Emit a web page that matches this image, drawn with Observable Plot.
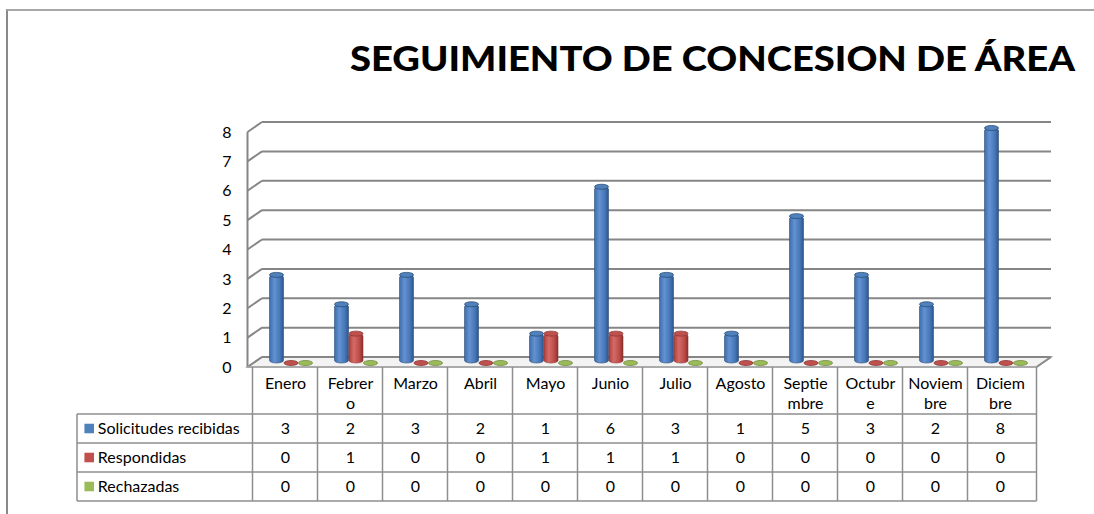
<!DOCTYPE html>
<html>
<head>
<meta charset="utf-8">
<script src="https://cdn.jsdelivr.net/npm/d3@7"></script>
<script src="https://cdn.jsdelivr.net/npm/@observablehq/plot@0.6"></script>
<style>
  html, body { margin: 0; padding: 0; background: #fff; }
  body { width: 1094px; height: 514px; position: relative; overflow: hidden; font-family: Lato, "Open Sans", sans-serif; }
  #frame { position: absolute; left: 6px; top: 9px; width: 2000px; height: 1000px;
           border-left: 2px solid #8a8a8a; border-top: 2px solid #a8a8a8; pointer-events: none; }
  #title { position: relative; height: 100px; }
  #title span { position: absolute; left: 350px; top: 41px; font: 900 34px Lato, sans-serif;
                line-height: 1; white-space: nowrap; color: #000; transform-origin: 0 0; }
  #chart svg { display: block; overflow: visible; }
</style>
</head>
<body>
<div id="frame"></div>
<div id="title"><span id="titletext">SEGUIMIENTO DE CONCESION DE ÁREA</span></div>
<div id="chart"></div>
<script>
// ---- data ----
const months = ["Enero","Febrero","Marzo","Abril","Mayo","Junio","Julio","Agosto","Septiembre","Octubre","Noviembre","Diciembre"];
const monthLabels = ["Enero","Febrer\no","Marzo","Abril","Mayo","Junio","Julio","Agosto","Septie\nmbre","Octubr\ne","Noviem\nbre","Diciem\nbre"];
const seriesNames = ["Solicitudes recibidas","Respondidas","Rechazadas"];
const solicitudes = [3,2,3,2,1,6,3,1,5,3,2,8];
const respondidas = [0,1,0,0,1,1,1,0,0,0,0,0];
const rechazadas  = [0,0,0,0,0,0,0,0,0,0,0,0];
const yTicks = [0,1,2,3,4,5,6,7,8];

const seriesValues = [solicitudes, respondidas, rechazadas];
const seriesStyle = [
  {grad: "gBlue",  cap: "#4f81bd", dark: "#2c4d75", key: "#4f81bd", insetLeft: 2.5,  insetRight: 48.5},
  {grad: "gRed",   cap: "#c0504d", dark: "#8c3836", key: "#c0504d", insetLeft: 17,   insetRight: 34},
  {grad: "gGreen", cap: "#9bbb59", dark: "#71893f", key: "#9bbb59", insetLeft: 31.5, insetRight: 19.5}
];

const DX = -14.5, DY = 10; // depth offset back->front
const NS = "http://www.w3.org/2000/svg";
const FS = 16;

function el(name, attrs) {
  const e = document.createElementNS(NS, name);
  for (const k in attrs) e.setAttribute(k, attrs[k]);
  return e;
}

// floor + walls, drawn through the scales
function wallsMark(index, scales, values, dims) {
  const g = el("g", {});
  const xl = dims.marginLeft, xr = dims.width - dims.marginRight;
  const y0 = scales.y(0);
  g.appendChild(el("polygon", {points: `${xl},${y0} ${xr},${y0} ${xr+DX},${y0+DY} ${xl+DX},${y0+DY}`,
    fill: "#f3f3f3", stroke: "#a6a6a6", "stroke-width": 1.5}));
  for (const v of yTicks) {
    const y = scales.y(v);
    g.appendChild(el("line", {x1: xl, y1: y, x2: xr, y2: y, stroke: "#868686", "stroke-width": 2}));
    g.appendChild(el("line", {x1: xl, y1: y, x2: xl+DX, y2: y+DY, stroke: "#868686", "stroke-width": 2}));
  }
  g.appendChild(el("line", {x1: xr, y1: y0, x2: xr+DX, y2: y0+DY, stroke: "#8a8a8a", "stroke-width": 2}));
  g.appendChild(el("line", {x1: xl+DX, y1: scales.y(yTicks[yTicks.length-1])+DY, x2: xl+DX, y2: y0+DY, stroke: "#868686", "stroke-width": 2}));
  return g;
}

// data table grid
function tableMark(index, scales, values, dims) {
  const g = el("g", {});
  const xl = dims.marginLeft, xr = dims.width - dims.marginRight;
  const y0 = scales.y(0);
  const top = y0 + DY, rows = [y0 + 57, y0 + 86, y0 + 115, y0 + 144];
  const tableLeft = xl - 185;
  const c = "#8e8e8e";
  g.appendChild(el("line", {x1: xl+DX, y1: top, x2: xr+DX, y2: top, stroke: "#a6a6a6", "stroke-width": 1.5}));
  for (const m of months) {
    const x = scales.x(m) + DX;
    g.appendChild(el("line", {x1: x, y1: top, x2: x, y2: rows[3], stroke: c, "stroke-width": 1.5}));
  }
  g.appendChild(el("line", {x1: xr+DX, y1: top, x2: xr+DX, y2: rows[3], stroke: c, "stroke-width": 1.5}));
  g.appendChild(el("line", {x1: tableLeft, y1: rows[0], x2: tableLeft, y2: rows[3], stroke: c, "stroke-width": 1.5}));
  for (const r of rows) g.appendChild(el("line", {x1: tableLeft, y1: r, x2: xr+DX, y2: r, stroke: c, "stroke-width": 1.5}));
  return g;
}

const marks = [wallsMark, tableMark];

// bars (cylinders)
seriesValues.forEach((vals, si) => {
  const s = seriesStyle[si];
  const data = months.map((m, i) => ({month: m, value: vals[i]}));
  marks.push(Plot.barY(data, {x: "month", y1: 0, y2: "value", fill: `url(#${s.grad})`,
    stroke: s.dark, strokeWidth: 0.6, insetLeft: s.insetLeft, insetRight: s.insetRight,
    rx: 7.5, ry: 2.5, dy: 6}));
  marks.push(Plot.barY(data, {x: "month", y1: "value", y2: "value", fill: s.cap,
    stroke: s.dark, strokeWidth: 0.8, insetLeft: s.insetLeft, insetRight: s.insetRight,
    insetTop: -2.5, insetBottom: -2.5, rx: 7.5, ry: 2.5, dy: 6}));
});

// y axis labels at front edge
marks.push(Plot.text(yTicks, {y: d => d, frameAnchor: "left", text: d => String(d), textAnchor: "end",
  dx: -31, dy: DY, fontSize: FS, fill: "#000"}));

// table header (month labels)
marks.push(Plot.text(months, {x: d => d, text: (d, i) => monthLabels[i], frameAnchor: "bottom",
  lineAnchor: "top", lineHeight: 1.25, dx: DX, dy: 17, fontSize: FS, fill: "#000"}));

// table values
const rowDy = [76, 105, 134];
seriesValues.forEach((vals, si) => {
  marks.push(Plot.text(months, {x: d => d, text: (d, i) => String(vals[i]), frameAnchor: "bottom",
    dx: DX, dy: rowDy[si], fontSize: FS, fill: "#000"}));
  marks.push(Plot.dot([seriesNames[si]], {frameAnchor: "bottom-left", symbol: "square", r: 5.4,
    fill: seriesStyle[si].key, stroke: null, dx: -173.3, dy: rowDy[si] - 5}));
  marks.push(Plot.text([seriesNames[si]], {frameAnchor: "bottom-left", text: d => d, textAnchor: "start",
    dx: -164.7, dy: rowDy[si], fontSize: FS, fill: "#000"}));
});

const svg = Plot.plot({
  width: 1094, height: 414,
  marginLeft: 262, marginRight: 43, marginTop: 22, marginBottom: 157,
  x: {type: "band", domain: months, padding: 0, axis: null},
  y: {domain: [0, 8], axis: null},
  style: {fontFamily: "Lato, 'Open Sans', sans-serif", fontSize: "16px", background: "transparent", overflow: "visible", color: "#000"},
  marks
});

const defs = `<defs>
<linearGradient id="gBlue" x1="0" x2="1" y1="0" y2="0">
  <stop offset="0" stop-color="#3f6dab"/><stop offset="0.35" stop-color="#6392d2"/><stop offset="0.75" stop-color="#4676b5"/><stop offset="1" stop-color="#2b5590"/>
</linearGradient>
<linearGradient id="gRed" x1="0" x2="1" y1="0" y2="0">
  <stop offset="0" stop-color="#b0403d"/><stop offset="0.35" stop-color="#d46b67"/><stop offset="0.75" stop-color="#bb4a47"/><stop offset="1" stop-color="#8e2f2c"/>
</linearGradient>
<linearGradient id="gGreen" x1="0" x2="1" y1="0" y2="0">
  <stop offset="0" stop-color="#8aab4a"/><stop offset="0.35" stop-color="#afcc72"/><stop offset="0.75" stop-color="#97b755"/><stop offset="1" stop-color="#6e8a38"/>
</linearGradient>
</defs>`;
svg.insertAdjacentHTML("afterbegin", defs);
document.getElementById("chart").appendChild(svg);

// fit title width to reference (350 -> 1075)
const t = document.getElementById("titletext");
const w = t.getBoundingClientRect().width;
if (w > 0) t.style.transform = `scaleX(${725 / w})`;
</script>
</body>
</html>
